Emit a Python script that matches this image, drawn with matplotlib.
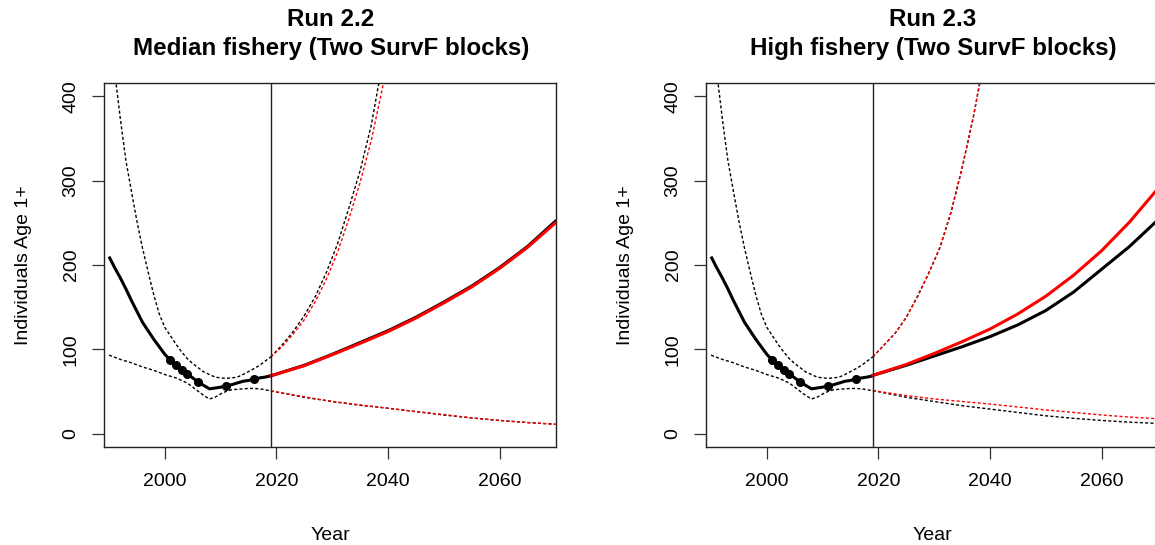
import matplotlib
matplotlib.use("Agg")
import matplotlib.pyplot as plt

plt.rcParams['font.family'] = ['Liberation Sans', 'DejaVu Sans']

# Estimated abundance (historical period)
hist_years = list(range(1990, 2020))
hist_median = [210, 197, 185, 172, 158, 145, 132, 122, 112, 103,
               94, 87, 81, 75, 71, 66, 61, 57, 53, 54,
               55, 56.5, 58, 60, 62, 63, 64.5, 66, 67, 68.5]
hist_upper = [470, 430, 375, 325, 288, 252, 220, 192, 165, 142,
              126, 116, 106, 97, 89, 83, 78, 73, 70, 67,
              66, 65.5, 66, 67, 70, 73.5, 77, 81, 86, 91]
hist_lower = [93, 90.5, 88, 86, 84, 81.5, 79, 77, 75, 72.5,
              70, 68, 66, 63, 60, 55, 50, 45, 41, 43,
              47, 50, 52, 52.5, 53, 53.5, 53.5, 53, 52, 50.5]

# Survey estimates
survey_years = [2001, 2002, 2003, 2004, 2006, 2011, 2016]
survey_values = [87, 81, 75, 71, 61, 56.5, 64.5]

# Projection period
proj_years = [2019, 2025, 2030, 2035, 2040, 2045, 2050, 2055, 2060, 2065, 2070]
upper_years = [2019, 2021, 2023, 2025, 2027, 2029, 2031, 2033, 2035, 2037, 2039, 2041]

# Run 2.2 - median fishery
r22_base_median = [68.5, 81, 94, 108, 122, 138, 156, 175, 197, 222, 252]
r22_fish_median = [68.5, 80.5, 93.5, 107, 121, 137, 155, 174, 196, 221, 250]
r22_base_upper = [91, 105, 121, 140, 163, 192, 226, 268, 312, 366, 440, 520]
r22_fish_upper = [91, 103, 118, 135, 157, 184, 216, 255, 298, 348, 410, 490]
r22_base_lower = [50.5, 43, 38, 33.5, 30, 26, 22, 18.5, 15.5, 13, 11]
r22_fish_lower = [50.5, 43.5, 38, 34, 30, 26, 22.5, 18.5, 15.5, 13, 11]

# Run 2.3 - high fishery
r23_base_median = [69, 81, 92, 103, 115, 129, 146, 168, 195, 222, 253]
r23_fish_median = [69, 82, 95, 109, 124, 142, 163, 188, 217, 251, 290]
r23_base_upper = [91, 105, 119, 138, 163, 190, 220, 262, 315, 375, 445, 525]
r23_fish_upper = [91, 105, 119, 138, 162, 190, 221, 263, 316, 376, 447, 527]
r23_base_lower = [51, 43, 38, 33, 29, 25, 21, 18, 15.5, 13.5, 12]
r23_fish_lower = [51, 45, 41, 38, 35, 31.5, 28, 25, 22, 19.5, 17.5]

x_ticks = [2000, 2020, 2040, 2060]
y_ticks = [0, 100, 200, 300, 400]
cutoff_year = 2019

panels = [
    ("Run 2.2", "Median fishery (Two SurvF blocks)",
     r22_base_median, r22_fish_median, r22_base_upper, r22_fish_upper,
     r22_base_lower, r22_fish_lower),
    ("Run 2.3", "High fishery (Two SurvF blocks)",
     r23_base_median, r23_fish_median, r23_base_upper, r23_fish_upper,
     r23_base_lower, r23_fish_lower),
]

W, H = 1155, 545
fig = plt.figure(figsize=(W / 100, H / 100), dpi=100)

dotted = (0, (2.2, 1.6))
axes_left_px = [104, 706]

for left_px, (line1, line2, bmed, fmed, bup, fup, blo, flo) in zip(axes_left_px, panels):
    ax = fig.add_axes([left_px / W, 98 / H, 452 / W, 364 / H])

    # historical estimates
    ax.plot(hist_years, hist_upper, color='black', lw=1.0, ls=dotted)
    ax.plot(hist_years, hist_lower, color='black', lw=1.0, ls=dotted)
    ax.plot(hist_years, hist_median, color='black', lw=2.2, solid_capstyle='butt')
    ax.plot(survey_years, survey_values, 'o', color='black', ms=5.5)

    # projections: no-fishery (black) and fishery (red)
    ax.plot(upper_years, bup, color='black', lw=1.0, ls=dotted)
    ax.plot(proj_years, blo, color='black', lw=1.0, ls=dotted)
    ax.plot(upper_years, fup, color='#ff0000', lw=1.0, ls=dotted)
    ax.plot(proj_years, flo, color='#ff0000', lw=1.0, ls=dotted)
    ax.plot(proj_years, bmed, color='black', lw=2.2)
    ax.plot(proj_years, fmed, color='#ff0000', lw=2.2)

    ax.axvline(cutoff_year, color='#222222', lw=1.0)

    ax.set_xlim(1989.1, 2070.1)
    ax.set_ylim(-16, 416)
    ax.set_xticks(x_ticks)
    ax.set_yticks(y_ticks)
    ax.tick_params(axis='both', length=8.5, width=0.9, labelsize=14,
                   color='#333333')
    ax.tick_params(axis='x', pad=10)
    ax.tick_params(axis='y', pad=9)
    for lab in ax.get_yticklabels():
        lab.set_rotation(90)
        lab.set_va('center')
    for sp in ax.spines.values():
        sp.set_linewidth(1.0)
        sp.set_color('#222222')

    ax.set_xlabel("Year", fontsize=14)
    ax.xaxis.set_label_coords(0.5, -0.242)
    ax.xaxis.label.set_va('center')
    ax.set_ylabel("Individuals Age 1+", fontsize=14)
    ax.yaxis.set_label_coords(-0.178, 0.5)
    ax.yaxis.label.set_va('center')

    cx = (left_px + 227) / W
    fig.text(cx, 1 - 20 / H, line1, ha='center', va='center',
             fontsize=17.4, fontweight='bold')
    fig.text(cx, 1 - 49 / H, line2, ha='center', va='center',
             fontsize=17.4, fontweight='bold')

fig.savefig("out.png", dpi=100)
